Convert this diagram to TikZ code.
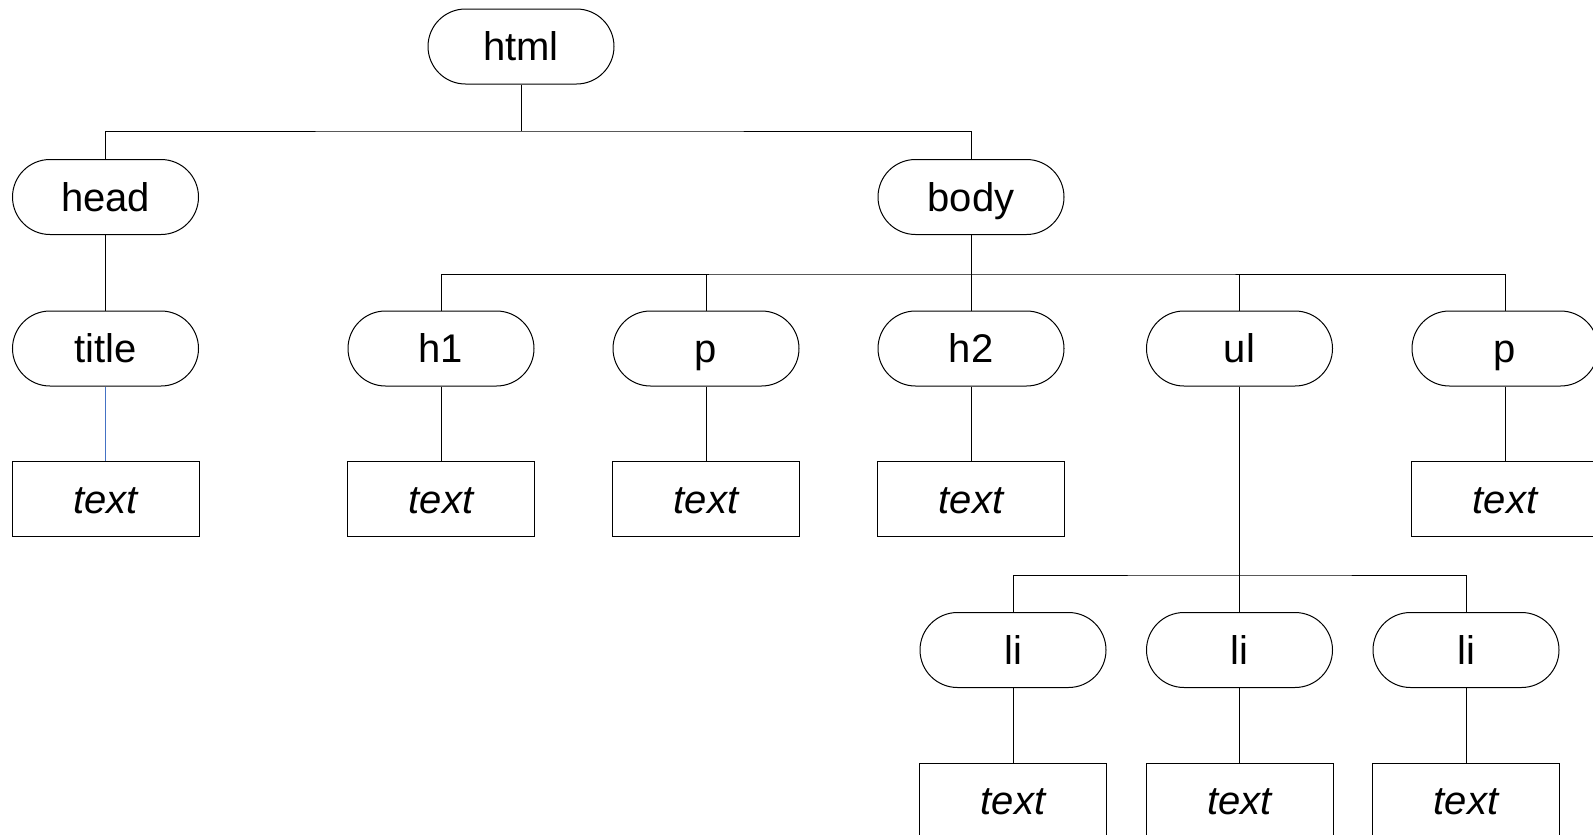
\documentclass[tikz,border=0pt]{standalone}
\usepackage{fontspec}
\setmainfont{Liberation Sans}
\usetikzlibrary{shapes.misc}
\definecolor{linkblue}{RGB}{68,114,196}
\tikzset{
  tag/.style={draw, rounded rectangle, minimum width=186pt, minimum height=75pt, line width=1pt, inner sep=0pt, text height=28.5pt, text depth=0pt, font=\fontsize{40}{44}\selectfont},
  leaf/.style={draw, rectangle, minimum width=187pt, minimum height=75pt, line width=1pt, inner sep=0pt, text height=28.5pt, text depth=0pt, font=\fontsize{40}{44}\selectfont\itshape},
  conn/.style={line width=1pt},
}
\begin{document}
\begin{tikzpicture}[x=1pt, y=-1pt]
\useasboundingbox (0,0) rectangle (1593,835);
% nodes
\node[tag] (html) at (521,46.5) {html};
\node[tag] (head) at (105.5,197) {head};
\node[tag] (body) at (971,197) {body};
\node[tag] (title) at (105.5,348.5) {title};
\node[tag] (h1) at (441,348.5) {h1};
\node[tag] (p1) at (706,348.5) {p};
\node[tag] (h2) at (971,348.5) {h2};
\node[tag] (ul) at (1239.5,348.5) {ul};
\node[tag] (p2) at (1505,348.5) {p};
\node[leaf] (t0) at (105.5,499) {text};
\node[leaf] (t1) at (441,499) {text};
\node[leaf] (t2) at (706,499) {text};
\node[leaf] (t3) at (971,499) {text};
\node[leaf] (t4) at (1505,499) {text};
\node[tag] (li1) at (1013,650) {li};
\node[tag] (li2) at (1239.5,650) {li};
\node[tag] (li3) at (1466,650) {li};
\node[leaf] (t5) at (1013,800.5) {text};
\node[leaf] (t6) at (1239.5,800.5) {text};
\node[leaf] (t7) at (1466,800.5) {text};
% bus points
\coordinate (b1) at (521,131);
\coordinate (b2) at (971,274);
\coordinate (b3) at (1239.5,575);
% connectors
\draw[conn] (html.south) -- (b1);
\draw[conn] (head.north) |- (b1) -| (body.north);
\draw[conn] (head.south) -- (title.north);
\draw[conn, linkblue] (title.south) -- (t0.north);
\draw[conn] (body.south) -- (b2);
\draw[conn] (h1.north) |- (b2) -| (p2.north);
\draw[conn] (p1.north) -- (p1.north |- b2);
\draw[conn] (h2.north) -- (b2);
\draw[conn] (ul.north) -- (ul.north |- b2);
\draw[conn] (h1.south) -- (t1.north);
\draw[conn] (p1.south) -- (t2.north);
\draw[conn] (h2.south) -- (t3.north);
\draw[conn] (p2.south) -- (t4.north);
\draw[conn] (ul.south) -- (b3);
\draw[conn] (li1.north) |- (b3) -| (li3.north);
\draw[conn] (li2.north) -- (b3);
\draw[conn] (li1.south) -- (t5.north);
\draw[conn] (li2.south) -- (t6.north);
\draw[conn] (li3.south) -- (t7.north);
\end{tikzpicture}
\end{document}
